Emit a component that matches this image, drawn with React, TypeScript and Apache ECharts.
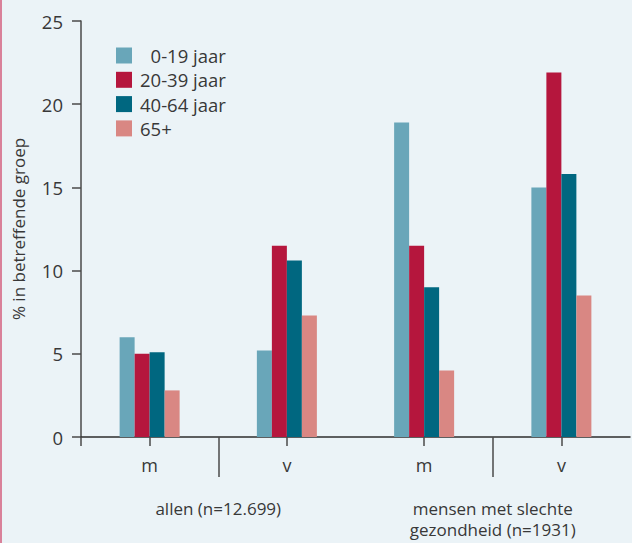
import React, { useEffect, useRef } from "react";
import * as echarts from "echarts";

const categories = ["m", "v", "m", "v"];
const groupLabels = ["allen (n=12.699)", "mensen met slechte\ngezondheid (n=1931)"];
const seriesNames = ["0-19 jaar", "20-39 jaar", "40-64 jaar", "65+"];
const age0_19 = [6.0, 5.2, 18.9, 15.0];
const age20_39 = [5.0, 11.5, 11.5, 21.9];
const age40_64 = [5.1, 10.6, 9.0, 15.8];
const age65plus = [2.8, 7.3, 4.0, 8.5];
const yTicks = { min: 0, max: 25, interval: 5 };

const colors = ["#69a6b9", "#b5163d", "#006780", "#d98783"];
const FONT = "'Open Sans', sans-serif";
const TEXT = "#383838";
const AXIS = "#4a4a4a";

export default function App() {
  const ref = useRef<HTMLDivElement>(null);
  useEffect(() => {
    if (!ref.current) return;
    const chart = echarts.init(ref.current, null, { renderer: "svg" });
    const values = [age0_19, age20_39, age40_64, age65plus];
    chart.setOption({
      animation: false,
      backgroundColor: "#ebf3f7",
      textStyle: { fontFamily: FONT, color: TEXT },
      grid: { left: 81, right: 2, top: 21, bottom: 106, containLabel: false, outerBoundsMode: "none" },
      legend: {
        orient: "vertical",
        left: 116,
        top: 46,
        padding: 0,
        itemWidth: 16,
        itemHeight: 16,
        itemGap: 5.3,
        icon: "rect",
        data: seriesNames,
        formatter: (n: string) => (n === "0-19 jaar" ? "\u2007" + n : n),
        textStyle: { fontSize: 18.5, color: TEXT, fontFamily: FONT, lineHeight: 16, padding: [0, 0, 0, 3] },
      },
      xAxis: [
        {
          type: "category",
          data: categories,
          position: "bottom",
          axisLine: { show: true, lineStyle: { color: "#2e2e2e", width: 1.5 } },
          axisTick: { show: true, alignWithLabel: true, length: 9, lineStyle: { color: AXIS, width: 1.5 } },
          axisLabel: { fontSize: 18, color: TEXT, margin: 19, fontFamily: FONT },
          splitLine: { show: false },
        },
        {
          type: "value",
          min: 0,
          max: 4,
          position: "bottom",
          axisLine: { show: false },
          axisTick: { show: true, customValues: [1, 3], length: 40, lineStyle: { color: AXIS, width: 1.5 } },
          axisLabel: {
            show: true,
            customValues: [1, 3],
            formatter: (v: number) => (v === 1 ? groupLabels[0] : groupLabels[1]),
            fontSize: 17,
            lineHeight: 21,
            color: TEXT,
            margin: 61,
            fontFamily: FONT,
          },
          splitLine: { show: false },
        },
        {
          type: "value",
          min: 0,
          max: 4,
          position: "bottom",
          axisLine: { show: false },
          axisTick: { show: true, customValues: [0], length: 9, lineStyle: { color: AXIS, width: 1.5 } },
          axisLabel: { show: false },
          splitLine: { show: false },
        },
      ],
      yAxis: {
        type: "value",
        min: yTicks.min,
        max: yTicks.max,
        interval: yTicks.interval,
        name: "% in betreffende groep",
        nameLocation: "middle",
        nameGap: 54,
        nameTextStyle: { fontSize: 17, color: TEXT, fontFamily: FONT },
        axisLine: { show: true, lineStyle: { color: AXIS, width: 1.5 } },
        axisTick: { show: true, length: 9, lineStyle: { color: AXIS, width: 1.5 } },
        axisLabel: { fontSize: 18.5, color: TEXT, margin: 18, fontFamily: FONT },
        splitLine: { show: false },
      },
      series: seriesNames.map((name, i) => ({
        name,
        type: "bar",
        xAxisIndex: 0,
        data: values[i],
        barWidth: 15,
        barGap: "0%",
        itemStyle: { color: colors[i] },
      })),
    });
    return () => chart.dispose();
  }, []);
  return (
    <div style={{ position: "fixed", left: 0, top: 0, width: 632, height: 543 }}>
      <div ref={ref} style={{ width: 632, height: 543 }} />
      <div style={{ position: "absolute", left: 0, top: 0, width: 2, height: 543, background: "#d9819a" }} />
    </div>
  );
}
